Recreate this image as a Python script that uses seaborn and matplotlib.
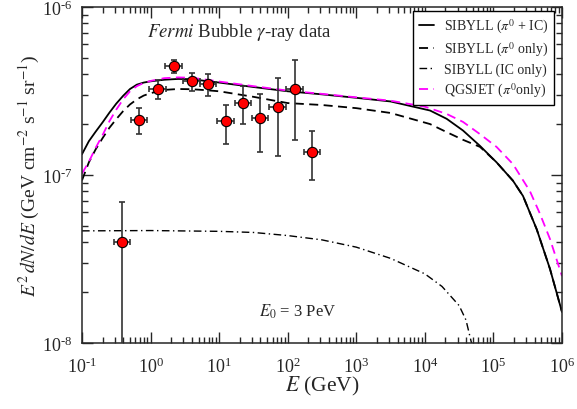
import numpy as np
import pandas as pd
import matplotlib
matplotlib.use("Agg")
import matplotlib.pyplot as plt
import seaborn as sns
from matplotlib.ticker import LogLocator, NullFormatter, FuncFormatter

# ---- model curves (E in GeV, E^2 dN/dE in GeV cm^-2 s^-1 sr^-1) ----
E_sib_tot = [0.1, 0.126, 0.158, 0.2, 0.251, 0.316, 0.398, 0.501, 0.631, 0.794, 1.0, 1.58,
             2.51, 3.98, 6.31, 10, 31.6, 100, 316, 1e3, 3.16e3, 1.19e4, 2.08e4, 3.6e4,
             6.37e4, 1.11e5, 1.93e5, 2.7e5, 4.28e5, 6.68e5, 1e6]
sibyll_total = [1.33e-7, 1.59e-7, 1.81e-7, 2.06e-7, 2.35e-7, 2.66e-7, 2.96e-7, 3.25e-7,
                3.45e-7, 3.55e-7, 3.61e-7, 3.69e-7, 3.73e-7, 3.72e-7, 3.63e-7, 3.55e-7,
                3.34e-7, 3.15e-7, 3.02e-7, 2.88e-7, 2.74e-7, 2.42e-7, 2.16e-7, 1.84e-7,
                1.49e-7, 1.19e-7, 9.24e-8, 7.5e-8, 4.75e-8, 2.76e-8, 1.53e-8]

E_sib_pi0 = [0.1, 0.126, 0.158, 0.2, 0.251, 0.316, 0.398, 0.501, 0.631, 0.794, 1.0, 1.58,
             2.51, 3.98, 6.31, 10, 31.6, 100, 316, 1e3, 3.16e3, 1.19e4, 2.08e4, 3.6e4,
             6.37e4, 1.11e5, 1.93e5, 2.7e5, 4.28e5, 6.68e5, 1e6]
sibyll_pi0 = [9.3e-8, 1.19e-7, 1.42e-7, 1.66e-7, 1.91e-7, 2.15e-7, 2.40e-7, 2.63e-7,
              2.82e-7, 2.97e-7, 3.07e-7, 3.21e-7, 3.25e-7, 3.24e-7, 3.20e-7, 3.15e-7,
              2.92e-7, 2.68e-7, 2.61e-7, 2.50e-7, 2.34e-7, 2.01e-7, 1.80e-7, 1.62e-7,
              1.47e-7, 1.19e-7, 9.24e-8, 7.5e-8, 4.75e-8, 2.76e-8, 1.53e-8]

E_sib_ic = [0.1, 1, 10, 31.6, 100, 316, 1e3, 3.16e3, 1e4, 1.78e4, 3.16e4, 3.98e4, 4.79e4, 5.62e4]
sibyll_ic = [4.65e-8, 4.67e-8, 4.62e-8, 4.55e-8, 4.36e-8, 4.11e-8, 3.72e-8, 3.19e-8,
             2.58e-8, 2.17e-8, 1.67e-8, 1.37e-8, 1.0e-8, 6e-9]

E_qgs = [0.1, 0.126, 0.158, 0.2, 0.251, 0.316, 0.398, 0.501, 0.631, 0.794, 1.0, 1.58,
         2.51, 3.98, 6.31, 10, 31.6, 100, 316, 1e3, 3.16e3, 1e4, 2.08e4, 3.6e4,
         6.37e4, 1.11e5, 1.93e5, 3.41e5, 4.75e5, 6.68e5, 1e6]
qgsjet_pi0 = [1.02e-7, 1.20e-7, 1.45e-7, 1.73e-7, 2.09e-7, 2.45e-7, 2.82e-7, 3.15e-7,
              3.38e-7, 3.53e-7, 3.63e-7, 3.77e-7, 3.81e-7, 3.79e-7, 3.70e-7, 3.60e-7,
              3.38e-7, 3.18e-7, 3.04e-7, 2.90e-7, 2.77e-7, 2.55e-7, 2.31e-7, 2.07e-7,
              1.75e-7, 1.47e-7, 1.16e-7, 8.0e-8, 5.9e-8, 4.16e-8, 2.5e-8]

# ---- Fermi bubble data ----
E_data = [0.38, 0.68, 1.27, 2.17, 3.97, 6.94, 12.4, 22.2, 39.4, 71, 126, 228]
E_bin_lo = [0.29, 0.52, 0.96, 1.65, 3.0, 5.3, 9.4, 16.9, 30, 54, 96, 173]
E_bin_hi = [0.50, 0.90, 1.67, 2.86, 5.2, 9.1, 16.4, 29.3, 52, 94, 166, 300]
F_data = [4.0e-8, 2.13e-7, 3.27e-7, 4.48e-7, 3.61e-7, 3.47e-7, 2.09e-7, 2.69e-7,
          2.19e-7, 2.55e-7, 3.24e-7, 1.38e-7]
F_lo = [1e-9, 1.75e-7, 2.83e-7, 4.05e-7, 3.18e-7, 2.95e-7, 1.53e-7, 2.01e-7,
        1.37e-7, 1.30e-7, 1.61e-7, 9.3e-8]
F_hi = [6.9e-8, 2.52e-7, 3.68e-7, 4.86e-7, 4.05e-7, 3.97e-7, 2.62e-7, 3.37e-7,
        3.02e-7, 3.78e-7, 4.86e-7, 1.84e-7]

labels = [r"SIBYLL ($\pi^0$ + IC)", r"SIBYLL ($\pi^0$ only)",
          r"SIBYLL (IC only)", r"QGSJET ($\pi^0$only)"]

sns.set_theme(style="ticks")
plt.rcParams["font.family"] = ["Liberation Serif", "DejaVu Serif"]
plt.rcParams["mathtext.fontset"] = "stix"
plt.rcParams["axes.linewidth"] = 1.1

fig = plt.figure(figsize=(5.77, 4.10), dpi=100)
ax = fig.add_axes([82 / 577, 66 / 410, 480 / 577, 336 / 410])

sns.lineplot(x=E_sib_tot, y=sibyll_total, ax=ax, color="black", lw=1.3, label=labels[0])
sns.lineplot(x=E_sib_pi0, y=sibyll_pi0, ax=ax, color="black", lw=1.3, label=labels[1])
ax.lines[-1].set_dashes((5, 3))
sns.lineplot(x=E_sib_ic, y=sibyll_ic, ax=ax, color="black", lw=1.0, label=labels[2])
ax.lines[-1].set_dashes((5.5, 2.5, 1, 2.5))
sns.lineplot(x=E_qgs, y=qgsjet_pi0, ax=ax, color="#ff00ff", lw=1.3, label=labels[3])
ax.lines[-1].set_dashes((5, 3))

E_arr = np.array(E_data)
F_arr = np.array(F_data)
ax.errorbar(E_arr, F_arr,
            xerr=[E_arr - np.array(E_bin_lo), np.array(E_bin_hi) - E_arr],
            yerr=[F_arr - np.array(F_lo), np.array(F_hi) - F_arr],
            fmt="none", ecolor="#333333", elinewidth=1.2, capsize=2.5, capthick=1.2, zorder=4)
sns.scatterplot(x=E_data, y=F_data, ax=ax, s=55, color="red", edgecolor="black",
                linewidth=0.8, zorder=5, legend=False)


def pow10_label(v, pos):
    n = int(round(np.log10(v)))
    s = "\u2010" + str(-n) if n < 0 else str(n)
    return r"$\mathdefault{10^{" + s + r"}}$"


ax.set_xscale("log")
ax.set_yscale("log")
ax.set_xlim(0.1, 1e6)
ax.set_ylim(1e-8, 1e-6)
ax.xaxis.set_major_locator(LogLocator(base=10, numticks=20))
ax.xaxis.set_minor_locator(LogLocator(base=10, subs=np.arange(2, 10), numticks=100))
ax.yaxis.set_minor_locator(LogLocator(base=10, subs=np.arange(2, 10), numticks=100))
ax.xaxis.set_major_formatter(FuncFormatter(pow10_label))
ax.yaxis.set_major_formatter(FuncFormatter(pow10_label))
ax.xaxis.set_minor_formatter(NullFormatter())
ax.yaxis.set_minor_formatter(NullFormatter())
ax.tick_params(which="both", direction="in", top=True, right=True, labelsize=13, width=1.0)
ax.tick_params(which="major", length=8)
ax.tick_params(which="minor", length=4.5)
ax.tick_params(axis="x", which="major", pad=9.5)
ax.tick_params(axis="y", which="major", pad=7)

ax.set_xlabel(r"$E$ (GeV)", fontsize=15.5, labelpad=-1)
ax.set_ylabel(r"$E^2\,dN/dE$ (GeV cm$^{-2}$ s$^{-1}$ sr$^{-1}$)", fontsize=14)
ax.yaxis.set_label_coords(-0.083, 0.5)

ax.text(0.327, 0.926, r"$\mathit{Fermi}$ Bubble $\gamma$-ray data", transform=ax.transAxes,
        ha="center", va="center", fontsize=13.5)
ax.text(0.45, 0.095, r"$E_0$ = 3 PeV", transform=ax.transAxes,
        ha="center", va="center", fontsize=12)

leg = ax.legend(loc="upper right", bbox_to_anchor=(0.983, 0.988), borderaxespad=0,
                fontsize=10, frameon=True, fancybox=False, edgecolor="black",
                handlelength=1.1, handletextpad=0.7, labelspacing=0.35, borderpad=0.4)
leg.get_frame().set_linewidth(1.0)
leg.get_frame().set_alpha(1)

fig.savefig("out.png", dpi=100)
